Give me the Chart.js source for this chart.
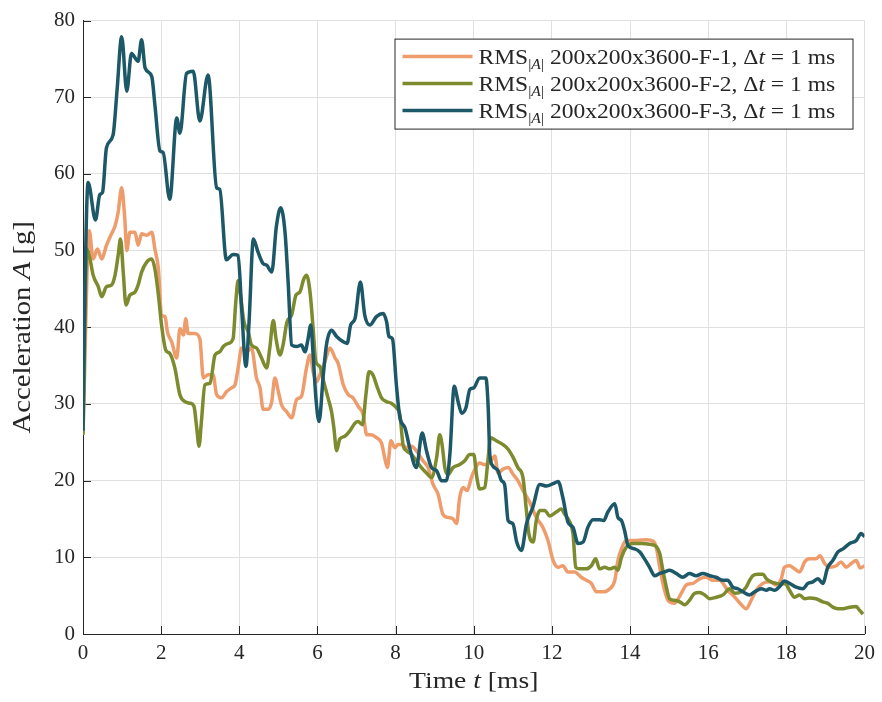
<!DOCTYPE html>
<html>
<head>
<meta charset="utf-8">
<script src="https://cdn.jsdelivr.net/npm/chart.js@4.4.1/dist/chart.umd.min.js"></script>
<style>
  html, body { margin: 0; padding: 0; background: #fff; }
</style>
</head>
<body>
<canvas id="grafico" width="882" height="702"></canvas>
<script>
// Eixos
const xTicks = [0, 2, 4, 6, 8, 10, 12, 14, 16, 18, 20];
const yTicks = [0, 10, 20, 30, 40, 50, 60, 70, 80];
const legendLabels = ['200x200x3600-F-1', '200x200x3600-F-2', '200x200x3600-F-3'];

// [tempo em ms, aceleração em g]
const serieF1 = [[0,26],[0.16,52.6],[0.26,48.9],[0.37,50.2],[0.48,48.9],[0.6,50.7],[0.73,52.2],[0.82,53.2],[0.9,55],[0.99,58.2],[1.07,54.1],[1.12,50],[1.2,52.4],[1.33,52.4],[1.41,50.7],[1.5,52.2],[1.63,52],[1.76,52.4],[1.84,50.2],[1.93,47.6],[2.01,41.6],[2.1,41.4],[2.16,39.4],[2.27,38.1],[2.4,36],[2.48,39.8],[2.57,39],[2.63,41.1],[2.69,39.2],[2.86,39.2],[2.99,38.5],[3.08,33.4],[3.2,33.8],[3.33,33.8],[3.42,31.2],[3.55,30.8],[3.67,31.6],[3.8,32.1],[3.89,32.5],[3.97,34.7],[4.06,37.3],[4.19,36.8],[4.31,37.3],[4.44,33.4],[4.53,32.1],[4.61,29.3],[4.74,29.3],[4.83,30.3],[4.91,33.4],[5,31.6],[5.08,29.9],[5.21,29],[5.34,28.2],[5.47,30.6],[5.59,31],[5.72,34.7],[5.81,36.4],[5.89,34.2],[5.98,32.9],[6.06,33.8],[6.19,35.5],[6.32,37.3],[6.45,36],[6.53,35.3],[6.66,32.5],[6.79,31.2],[6.91,30.8],[7.04,29.7],[7.17,28.6],[7.26,26],[7.38,26],[7.51,25.6],[7.64,24.9],[7.72,23],[7.79,21.7],[7.88,25.2],[7.98,24.3],[8.06,24.7],[8.15,24.7],[8.28,24.3],[8.41,24.5],[8.53,23.9],[8.7,22.6],[8.83,21.7],[8.96,19.5],[9.09,18.2],[9.21,15.6],[9.34,15.2],[9.47,15],[9.56,14.4],[9.64,17.8],[9.73,19.1],[9.83,18.7],[9.94,20.4],[10.05,21.7],[10.15,22.3],[10.28,22.1],[10.41,22.3],[10.54,23.2],[10.62,21],[10.75,21.5],[10.88,21.7],[11.01,20.8],[11.13,20],[11.26,18.7],[11.43,17.2],[11.6,15.2],[11.77,13.9],[11.9,12.2],[12.03,9.6],[12.16,8.7],[12.28,8.9],[12.41,8.1],[12.58,8.1],[12.75,7.4],[12.88,7],[13.01,6.6],[13.14,5.5],[13.31,5.5],[13.48,5.9],[13.61,7],[13.69,9.6],[13.78,11.1],[13.9,12.2],[14.16,12.2],[14.42,12.3],[14.59,12.1],[14.67,11.3],[14.76,8.7],[14.84,6.6],[14.97,4.4],[15.14,4],[15.31,5.3],[15.44,6.4],[15.61,6.6],[15.78,7.2],[15.95,7.4],[16.12,7],[16.29,7],[16.5,5.7],[16.68,4.8],[16.85,3.8],[16.97,3.3],[17.1,4.4],[17.23,5.7],[17.4,6.6],[17.57,6.8],[17.74,6.4],[17.87,7.2],[17.95,8.7],[18.08,8.9],[18.21,8.5],[18.34,8.1],[18.47,9.4],[18.59,9.8],[18.76,9.8],[18.86,10.2],[18.98,9.2],[19.1,8.7],[19.28,8.9],[19.4,9.4],[19.53,8.7],[19.66,9.2],[19.79,9.6],[19.89,8.6],[20,8.9]];

const serieF2 = [[0,26],[0.1,50.2],[0.18,48.9],[0.26,46.8],[0.39,45.3],[0.48,44],[0.6,45.3],[0.73,45.5],[0.82,46.8],[0.9,49.4],[0.96,51.5],[1.03,47.2],[1.1,42.9],[1.2,44.2],[1.33,44.6],[1.41,45.5],[1.5,47.2],[1.63,48.5],[1.76,48.9],[1.84,47.6],[1.93,44.2],[2.01,40.3],[2.12,37],[2.22,36.6],[2.35,34.7],[2.48,31.2],[2.61,30.3],[2.74,30.1],[2.84,29.7],[2.91,26.9],[2.97,24.5],[3.03,27.7],[3.12,32.5],[3.25,32.7],[3.38,36.4],[3.5,36.8],[3.59,37.5],[3.72,37.9],[3.84,38.5],[3.91,43.3],[3.97,46.1],[4.03,44.2],[4.12,40.7],[4.23,39.4],[4.31,37.7],[4.44,37.3],[4.57,36],[4.7,34.7],[4.78,37.3],[4.87,40.9],[4.94,38.5],[5.04,36.4],[5.12,37.7],[5.22,40.7],[5.34,41.6],[5.45,44.2],[5.55,44.6],[5.65,46.3],[5.72,46.8],[5.81,44.6],[5.89,39.8],[5.96,35.5],[6.06,34.9],[6.16,32.9],[6.27,30.8],[6.36,29],[6.42,26.9],[6.49,23.9],[6.57,25.4],[6.7,25.8],[6.83,26.5],[6.96,27.5],[7.04,27.7],[7.15,27.3],[7.24,31.2],[7.32,34.2],[7.42,33.8],[7.51,32.5],[7.64,30.8],[7.77,30.3],[7.89,30.1],[8.02,29.5],[8.11,28.6],[8.19,24.7],[8.28,23.9],[8.41,23.4],[8.53,22.6],[8.66,21.7],[8.79,21],[8.92,20.4],[9.05,23],[9.13,26],[9.2,24.3],[9.26,21.7],[9.34,20.8],[9.47,21.7],[9.64,22.1],[9.77,22.6],[9.9,23.4],[10,23.4],[10.08,20.4],[10.15,18.9],[10.28,19.1],[10.37,23],[10.43,25.6],[10.58,25.2],[10.75,24.7],[10.88,24.1],[11.01,23],[11.13,21.7],[11.26,20.4],[11.34,16.5],[11.41,13.1],[11.52,12],[11.6,14.8],[11.69,16.1],[11.82,16.1],[11.94,15.4],[12.11,15.9],[12.24,16.3],[12.33,15.6],[12.46,14.6],[12.54,13.1],[12.61,8.7],[12.71,8.5],[12.88,8.5],[13.01,8.9],[13.12,9.8],[13.22,8.5],[13.35,8.7],[13.48,8.5],[13.61,8.7],[13.69,8.3],[13.78,10],[13.9,11.3],[14.07,11.8],[14.29,11.8],[14.5,11.7],[14.67,11.4],[14.76,10.5],[14.84,8.3],[14.93,6.1],[15.01,4.6],[15.14,4.4],[15.27,4.2],[15.4,3.8],[15.52,4.4],[15.65,5.3],[15.78,5.4],[15.91,5.1],[16.04,4.6],[16.21,4.8],[16.38,5.1],[16.55,5.9],[16.68,5.3],[16.85,5.5],[16.97,6.1],[17.06,7],[17.14,7.6],[17.27,7.8],[17.4,7.8],[17.49,7.2],[17.61,6.8],[17.74,6.6],[17.87,6.5],[17.97,6.6],[18.08,5.7],[18.21,4.8],[18.34,5.1],[18.47,4.6],[18.59,4.7],[18.76,4.6],[18.93,4.2],[19.06,4],[19.19,3.5],[19.32,3.3],[19.45,3.3],[19.62,3.5],[19.79,3.6],[19.87,3.1],[19.96,2.6]];

const serieF3 = [[0,26.5],[0.05,45],[0.13,58.9],[0.32,54],[0.43,57.3],[0.5,57.6],[0.6,63.4],[0.77,65.1],[0.87,70.8],[0.99,77.9],[1.12,70.8],[1.24,75.7],[1.41,74.7],[1.5,77.5],[1.59,73.8],[1.76,72.7],[1.84,69],[1.97,63],[2.05,62.8],[2.22,56.7],[2.4,67.3],[2.48,65.3],[2.65,73.1],[2.82,73.4],[2.99,66.9],[3.2,72.9],[3.42,58.2],[3.5,58],[3.67,48.8],[3.84,49.5],[3.97,49.4],[4.06,42.4],[4.17,34.9],[4.25,40.7],[4.36,51.5],[4.48,49.8],[4.61,48.3],[4.7,48.1],[4.83,47.2],[4.95,53.2],[5.06,55.6],[5.17,52.4],[5.25,45.9],[5.34,37.7],[5.47,37.5],[5.59,37.7],[5.68,36.8],[5.76,38.5],[5.83,40.3],[5.89,36.4],[5.96,30.8],[6.04,27.7],[6.15,33.8],[6.23,37.7],[6.36,39.6],[6.49,38.8],[6.66,38.1],[6.76,37.9],[6.85,40.3],[6.96,41.1],[7.1,45.9],[7.21,41.6],[7.34,40.3],[7.51,41.4],[7.68,41.8],[7.77,40.7],[7.83,38.8],[7.92,38.5],[8.02,32.5],[8.11,28.2],[8.24,26.9],[8.36,24.3],[8.53,21.7],[8.68,26.2],[8.79,23.9],[8.92,21.7],[9.05,21.3],[9.17,20],[9.3,20],[9.39,23.5],[9.5,32.3],[9.6,30.3],[9.69,28.8],[9.8,29.5],[9.9,31.9],[10,32.1],[10.15,33.4],[10.31,33.4],[10.37,29.5],[10.41,23.5],[10.49,21.9],[10.62,21.3],[10.71,20],[10.79,19.5],[10.88,14.8],[11,14.4],[11.1,12],[11.22,10.9],[11.35,14.4],[11.51,16.5],[11.69,19.5],[11.86,19.3],[12.03,19.6],[12.16,19.9],[12.28,17.8],[12.41,14.6],[12.54,13.9],[12.67,11.8],[12.8,12],[12.92,13.9],[13.05,14.9],[13.22,14.9],[13.33,14.8],[13.43,15.9],[13.61,17],[13.69,15.2],[13.78,14.8],[13.86,13.5],[13.95,11.5],[14.12,11.1],[14.25,10.7],[14.37,9.8],[14.5,8.7],[14.63,7.6],[14.76,7.9],[14.88,8.1],[15.01,8.3],[15.18,7.9],[15.35,7.4],[15.52,7.9],[15.69,7.6],[15.86,7.9],[16.04,7.6],[16.2,7.4],[16.38,7],[16.5,7],[16.63,6.1],[16.76,5.9],[16.89,5.5],[17.06,5.1],[17.19,5.5],[17.36,5.9],[17.49,5.7],[17.57,5.9],[17.7,5.7],[17.83,6.2],[17.95,6.9],[18.08,6.6],[18.25,6.1],[18.42,5.9],[18.55,6.6],[18.68,6.8],[18.81,7.2],[18.93,6.6],[19.06,8.7],[19.19,9.6],[19.32,10.7],[19.45,11.1],[19.62,11.8],[19.79,12.2],[19.91,13.1],[20,12.7]];

const cores = ['#EF9C6C', '#7D8A2E', '#1C5868'];
const SERIF = '"Liberation Serif", "DejaVu Serif", serif';
const corEixo = '#262626';

function fonte(size, italic) {
    return (italic ? 'italic ' : '') + size + 'px ' + SERIF;
}

// escreve um texto com trechos em itálico / subscrito, esticado na horizontal
// (a fonte do original é mais larga que a Liberation Serif)
function textoRico(ctx, partes, x, y, align, esticar) {
    let largura = 0;
    partes.forEach(p => {
        ctx.font = fonte(p.size, p.it);
        p.w = ctx.measureText(p.t).width;
        largura += p.w;
    });
    const sx = esticar || 1;
    const x0 = align === 'center' ? x - largura * sx / 2 : x;
    ctx.save();
    ctx.translate(x0, y);
    ctx.scale(sx, 1);
    let cx = 0;
    partes.forEach(p => {
        ctx.font = fonte(p.size, p.it);
        ctx.fillText(p.t, cx, p.dy || 0);
        cx += p.w;
    });
    ctx.restore();
}

const decoracao = {
    id: 'decoracao',
    beforeDatasetsDraw(chart) {
        const { ctx, chartArea: a, scales: { x, y } } = chart;
        ctx.save();
        ctx.strokeStyle = corEixo;
        ctx.lineWidth = 1;
        x.ticks.forEach(t => {
            const px = Math.round(x.getPixelForValue(t.value)) + 0.5;
            ctx.beginPath();
            ctx.moveTo(px, a.bottom);
            ctx.lineTo(px, a.bottom - 8);
            ctx.stroke();
        });
        y.ticks.forEach(t => {
            const py = Math.round(y.getPixelForValue(t.value)) + 0.5;
            ctx.beginPath();
            ctx.moveTo(a.left, py);
            ctx.lineTo(a.left + 8, py);
            ctx.stroke();
        });
        ctx.restore();
    },
    afterDraw(chart) {
        const { ctx, chartArea: a } = chart;
        ctx.save();
        ctx.fillStyle = corEixo;
        ctx.textBaseline = 'alphabetic';

        // títulos dos eixos
        textoRico(ctx, [
            { t: 'Time ', size: 24 }, { t: 't', size: 24, it: true }, { t: ' [ms]', size: 24 }
        ], (a.left + a.right) / 2, 688, 'center', 1.15);

        ctx.save();
        ctx.translate(22, (a.top + a.bottom) / 2);
        ctx.rotate(-Math.PI / 2);
        textoRico(ctx, [
            { t: 'Acceleration ', size: 25 }, { t: 'A', size: 25, it: true }, { t: ' [g]', size: 25 }
        ], 0, 8, 'center', 1.15);
        ctx.restore();

        // legenda
        const bx = a.right - 470, by = a.top + 18, bw = 458, bh = 90;
        ctx.fillStyle = '#fff';
        ctx.fillRect(bx, by, bw, bh);
        ctx.strokeStyle = corEixo;
        ctx.lineWidth = 1;
        ctx.strokeRect(bx + 0.5, by + 0.5, bw, bh);
        legendLabels.forEach((lab, i) => {
            const ry = by + 18 + i * 27;
            ctx.strokeStyle = cores[i];
            ctx.lineWidth = 3.5;
            ctx.beginPath();
            ctx.moveTo(bx + 8, ry);
            ctx.lineTo(bx + 78, ry);
            ctx.stroke();
            ctx.fillStyle = corEixo;
            textoRico(ctx, [
                { t: 'RMS', size: 21 },
                { t: '|', size: 14, dy: 5 }, { t: 'A', size: 14, it: true, dy: 5 }, { t: '|', size: 14, dy: 5 },
                { t: ' ' + lab + ', Δ', size: 21 },
                { t: 't', size: 21, it: true },
                { t: ' = 1 ms', size: 21 }
            ], bx + 84, ry + 7, 'left', 1.12);
        });
        ctx.restore();
    }
};

const ctxGrafico = document.getElementById('grafico').getContext('2d');
const series = [serieF1, serieF2, serieF3];

new Chart(ctxGrafico, {
    type: 'line',
    data: {
        datasets: series.map((s, i) => ({
            label: 'RMS ' + legendLabels[i],
            data: s.map(([t, v]) => ({ x: t, y: v })),
            borderColor: cores[i],
            borderWidth: 3.5,
            pointRadius: 0,
            fill: false,
            cubicInterpolationMode: 'monotone',
            order: 2 - i
        }))
    },
    options: {
        responsive: false,
        animation: false,
        layout: { padding: { left: 0, top: 17, right: 17, bottom: 0 } },
        plugins: {
            legend: { display: false },
            tooltip: { enabled: false }
        },
        scales: {
            x: {
                type: 'linear',
                min: 0,
                max: 20,
                afterBuildTicks: s => { s.ticks = xTicks.map(v => ({ value: v })); },
                afterFit: s => { s.height = 68; },
                ticks: {
                    color: corEixo,
                    font: { family: SERIF, size: 21 },
                    padding: 7,
                    maxRotation: 0
                },
                grid: { color: '#e0e0e0', drawTicks: false },
                border: { color: corEixo, width: 1 }
            },
            y: {
                min: 0,
                max: 80,
                afterBuildTicks: s => { s.ticks = yTicks.map(v => ({ value: v })); },
                afterFit: s => { s.width = 83; },
                ticks: {
                    color: corEixo,
                    font: { family: SERIF, size: 21 },
                    padding: 8
                },
                grid: { color: '#e0e0e0', drawTicks: false },
                border: { color: corEixo, width: 1 }
            }
        }
    },
    plugins: [decoracao]
});
</script>
</body>
</html>
